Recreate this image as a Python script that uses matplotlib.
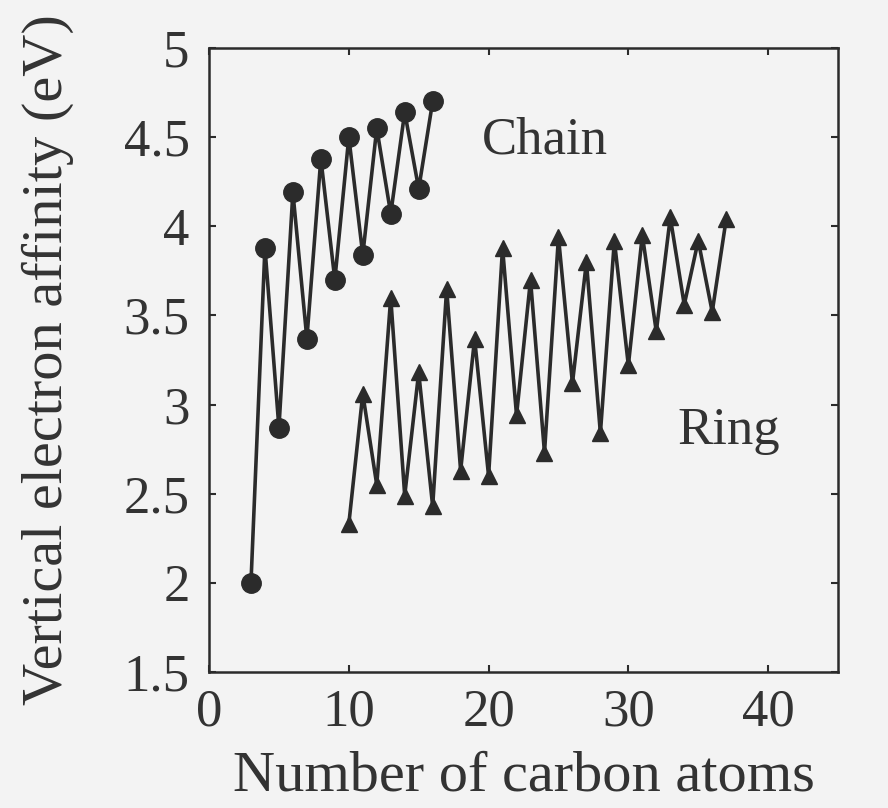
import numpy as np
import matplotlib
matplotlib.use("Agg")
from matplotlib import pyplot as plt

# chain clusters, C3..C16
chain_n = list(range(3, 17))
chain_ea = [2.00, 3.88, 2.87, 4.19, 3.37, 4.38, 3.70, 4.50,
            3.84, 4.55, 4.07, 4.64, 4.21, 4.70]

# ring clusters, C10..C37
ring_n = list(range(10, 38))
ring_ea = [2.33, 3.06, 2.55, 3.60, 2.49, 3.18, 2.43, 3.65,
           2.63, 3.37, 2.60, 3.88, 2.94, 3.70, 2.73, 3.94,
           3.12, 3.80, 2.84, 3.92, 3.22, 3.95, 3.41, 4.05,
           3.56, 3.92, 3.52, 4.04]

xticks = [0, 10, 20, 30, 40]
yticks = [1.5, 2, 2.5, 3, 3.5, 4, 4.5, 5]
ytick_labels = ["1.5", "2", "2.5", "3", "3.5", "4", "4.5", "5"]

plt.rcParams['font.family'] = ['Liberation Serif', 'DejaVu Serif']
ink = '#2b2b2b'
txt = '#333333'
paper = '#f3f3f3'

fig = plt.figure(figsize=(8.88, 8.08), dpi=100, facecolor=paper)
ax = fig.add_axes([0.2354, 0.1683, 0.7083, 0.7723])
ax.set_facecolor(paper)

ax.plot(chain_n, chain_ea, color=ink, lw=2.6, marker='o', ms=14,
        mfc=ink, mec=ink)
ax.plot(ring_n, ring_ea, color=ink, lw=2.6, marker='^', ms=12,
        mfc=ink, mec=ink)

ax.text(24, 4.48, "Chain", fontsize=38, color=txt, ha='center', va='center')
ax.text(37.2, 2.85, "Ring", fontsize=38, color=txt, ha='center', va='center')

ax.set_xlim(0, 45)
ax.set_ylim(1.5, 5)
ax.set_xticks(xticks)
ax.set_yticks(yticks)
ax.set_yticklabels(ytick_labels)
ax.tick_params(direction='in', length=5, width=1.5, color=ink,
               labelcolor=txt, labelsize=38, top=True, right=True)
ax.tick_params(axis='x', pad=12)
ax.tick_params(axis='y', pad=14)
for s in ax.spines.values():
    s.set_color(ink)
    s.set_linewidth(1.8)

ax.set_xlabel("Number of carbon atoms", fontsize=42, color=txt)
ax.set_ylabel("Vertical electron affinity (eV)", fontsize=42, color=txt)
ax.xaxis.set_label_coords(0.5, -0.125)
ax.yaxis.set_label_coords(-0.215, 0.5)

fig.savefig("out.png", dpi=100, facecolor=paper)
